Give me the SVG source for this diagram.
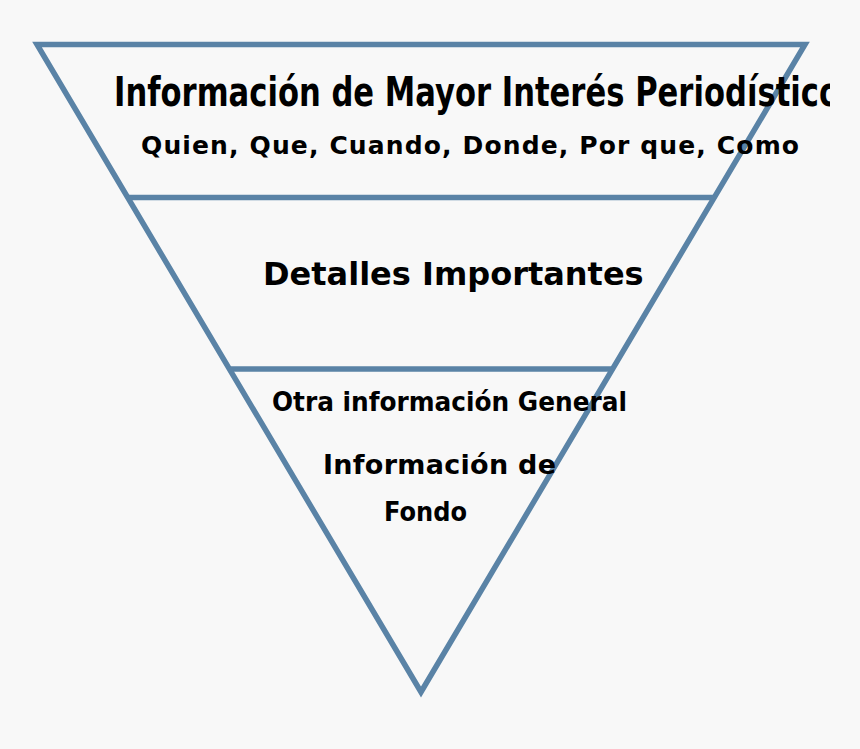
<svg xmlns="http://www.w3.org/2000/svg" width="860" height="749" viewBox="0 0 860 749">
<style>
.ln{fill:none;stroke:#5a83a6;stroke-width:5.5}
.t{font-family:"DejaVu Sans","Liberation Sans",sans-serif;font-weight:bold;fill:#000}
</style>
<defs><clipPath id="clip"><rect x="0" y="0" width="830" height="749"/></clipPath></defs>
<rect width="860" height="749" fill="#f8f8f8"/>
<g id="connectors">
<path class="ln" d="M37,44.5 L805,44.5 L421,692 Z"/>
<line class="ln" x1="128" y1="197.5" x2="714" y2="197.5"/>
<line class="ln" x1="230" y1="369" x2="613" y2="369"/>
</g>
<g id="n1">
<g clip-path="url(#clip)">
<text class="t" x="114" y="106" font-size="40.5" textLength="726" lengthAdjust="spacingAndGlyphs">Información de Mayor Interés Periodístico</text>
</g>
<text class="t" x="141" y="154" font-size="25" textLength="658" lengthAdjust="spacing">Quien, Que, Cuando, Donde, Por que, Como</text>
</g>
<g id="n2">
<text class="t" x="263" y="285" font-size="32">Detalles Importantes</text>
</g>
<g id="n3">
<text class="t" x="272" y="411" font-size="26" textLength="355" lengthAdjust="spacingAndGlyphs">Otra información General</text>
<text class="t" x="323" y="474" font-size="27" textLength="233" lengthAdjust="spacing">Información de</text>
<text class="t" x="384" y="521" font-size="26" textLength="83" lengthAdjust="spacingAndGlyphs">Fondo</text>
</g>
</svg>
